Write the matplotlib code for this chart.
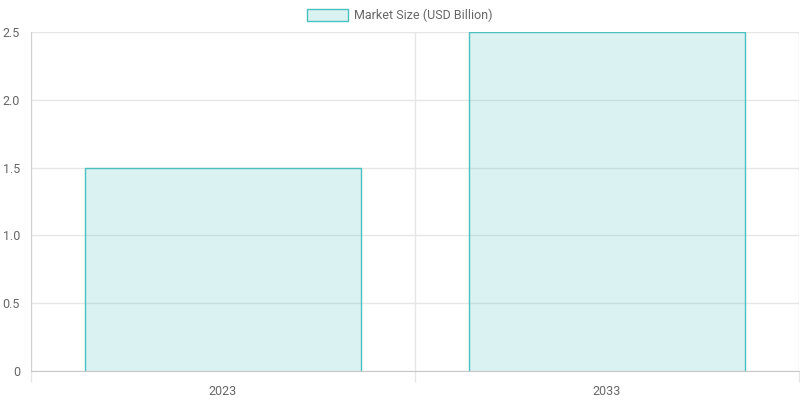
import matplotlib
matplotlib.use("Agg")
import matplotlib.pyplot as plt
from matplotlib.patches import Rectangle

# chart data
years = ["2023", "2033"]
market_size = [1.5, 2.5]
y_ticks = [0, 0.5, 1.0, 1.5, 2.0, 2.5]
y_labels = ["0", "0.5", "1.0", "1.5", "2.0", "2.5"]
series_name = "Market Size (USD Billion)"

edge = (75/255, 192/255, 192/255)
fill = (75/255, 192/255, 192/255, 0.2)
grid_c = "#e6e6e6"
text_c = "#666666"

plt.rcParams['font.family'] = ['Roboto', 'DejaVu Sans']

fig = plt.figure(figsize=(8, 4), dpi=100)
W, H = 800, 400
ax = fig.add_axes([31/W, 29/H, (799-31)/W, (371-32)/H])

xs = list(range(len(years)))
bars = ax.bar(xs, market_size, width=0.72, color=fill, edgecolor="none", zorder=3)
for b in bars:
    x0, x1, h = b.get_x(), b.get_x() + b.get_width(), b.get_height()
    ax.plot([x0, x0, x1, x1], [0, h, h, 0], color=edge, lw=1, zorder=4,
            solid_joinstyle="miter")

ax.set_xlim(-0.5, len(years) - 0.5)
ax.set_ylim(0, 2.5)

ax.set_xticks(xs)
ax.set_xticklabels(years)
ax.set_xticks([i - 0.5 for i in range(len(years) + 1)], minor=True)
ax.tick_params(axis="x", which="major", length=0, pad=10, labelsize=9, labelcolor=text_c)
ax.tick_params(axis="x", which="minor", length=8, color=grid_c, width=1)
ax.set_yticks(y_ticks)
ax.set_yticklabels(y_labels)
ax.tick_params(axis="y", length=0, pad=8, labelsize=9, labelcolor=text_c)

ax.grid(True, which="minor", axis="x", color=grid_c, lw=1, zorder=0)
ax.grid(True, which="major", axis="y", color=grid_c, lw=1, zorder=0)

for s in ["top", "right"]:
    ax.spines[s].set_visible(False)
ax.spines["left"].set_color("#d0d0d0")
ax.spines["bottom"].set_color("#c8c8c8")
ax.spines["left"].set_zorder(5)
ax.spines["bottom"].set_zorder(5)

# legend drawn in figure pixels
fig.patches.append(Rectangle((307/W, (H-21)/H), 41/W, 12/H, transform=fig.transFigure,
                             facecolor=fill, edgecolor=edge, lw=1))
fig.text(354/W, (H-15)/H, series_name, fontsize=9, color=text_c, va="center", ha="left")

fig.savefig("out.png", dpi=100)
